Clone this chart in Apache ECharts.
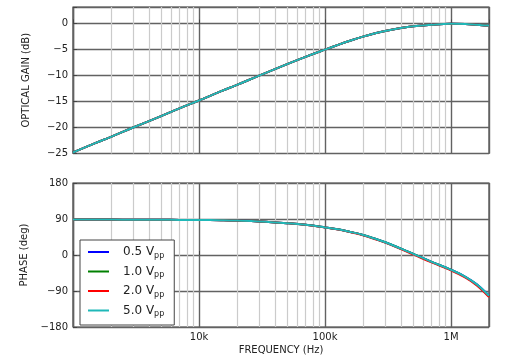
<!DOCTYPE html>
<html>
<head>
<meta charset="utf-8">
<script src="https://cdn.jsdelivr.net/npm/echarts@6/dist/echarts.min.js"></script>
<style>html,body{margin:0;padding:0;background:#fff}#c{width:507px;height:356px}</style>
</head>
<body>
<div id="c"></div>
<script>
// ---- data ----
var freqs = [1000, 1500, 2000, 3000, 5000, 7000, 10000, 15000, 20000, 30000, 50000, 70000, 100000, 130000, 160000, 200000, 250000, 300000, 400000, 500000, 700000, 1000000, 1300000, 1600000, 2000000];
var seriesNames = ['0.5 V', '1.0 V', '2.0 V', '5.0 V'];
var gain05 = [-24.8, -23.0, -21.8, -20.0, -17.8, -16.3, -14.8, -13.0, -11.8, -10.0, -7.8, -6.4, -5.0, -4.0, -3.25, -2.5, -1.85, -1.4, -0.85, -0.52, -0.2, -0.02, -0.05, -0.2, -0.42];
var gain10 = [-24.8, -23.0, -21.8, -20.0, -17.8, -16.3, -14.8, -13.0, -11.8, -10.0, -7.8, -6.4, -5.0, -4.0, -3.25, -2.5, -1.85, -1.4, -0.85, -0.52, -0.2, -0.02, -0.05, -0.2, -0.42];
var gain20 = [-24.8, -23.0, -21.8, -20.0, -17.8, -16.3, -14.8, -13.0, -11.8, -10.0, -7.8, -6.4, -5.0, -4.0, -3.25, -2.5, -1.85, -1.4, -0.85, -0.52, -0.2, -0.03, -0.07, -0.23, -0.47];
var gain50 = [-24.8, -23.0, -21.8, -20.0, -17.8, -16.3, -14.8, -13.0, -11.8, -10.0, -7.8, -6.4, -5.0, -4.0, -3.25, -2.5, -1.85, -1.4, -0.85, -0.52, -0.2, -0.02, -0.05, -0.2, -0.42];
var phase05 = [88.5, 88.5, 88.5, 88.3, 88.0, 87.8, 87.5, 86.8, 86.0, 84.0, 79.5, 75.5, 69.0, 63.5, 57.5, 50.0, 40.5, 32.0, 16.0, 3.0, -17.0, -37.0, -54.5, -73.5, -102.0];
var phase10 = [88.5, 88.5, 88.5, 88.3, 88.0, 87.8, 87.5, 86.8, 86.0, 84.0, 79.5, 75.5, 69.0, 63.5, 57.5, 50.0, 40.5, 32.0, 16.0, 3.0, -17.0, -37.3, -55.0, -74.2, -103.0];
var phase20 = [88.5, 88.5, 88.5, 88.3, 88.0, 87.8, 87.5, 86.8, 86.0, 84.0, 79.5, 75.5, 69.0, 63.3, 57.0, 49.3, 39.5, 30.8, 14.6, 1.5, -18.6, -38.6, -56.5, -76.0, -105.0];
var phase50 = [88.5, 88.5, 88.5, 88.3, 88.0, 87.8, 87.5, 86.8, 86.0, 84.0, 79.5, 75.5, 69.0, 63.5, 57.5, 50.0, 40.5, 32.0, 16.0, 3.0, -17.0, -37.0, -54.5, -73.5, -102.0];
var colors = ['#0000ff', '#008000', '#ff0000', '#1fb8b8'];
var minorGrid = [2000, 3000, 4000, 5000, 6000, 7000, 8000, 9000, 20000, 30000, 40000, 50000, 60000, 70000, 80000, 90000, 200000, 300000, 400000, 500000, 600000, 700000, 800000, 900000];
var xTickLabels = {10000: '10k', 100000: '100k', 1000000: '1M'};
var gainTicks = [-25, -20, -15, -10, -5, 0];
var phaseTicks = [-180, -90, 0, 90, 180];

function pairs(ys) { return freqs.map(function (f, i) { return [f, ys[i]]; }); }
function minus(v) { return String(v).replace('-', '\u2212'); }

var FONT = 'DejaVu Sans';
var gainData = [gain05, gain10, gain20, gain50];
var phaseData = [phase05, phase10, phase20, phase50];
var series = [];
var minorLines = minorGrid.map(function (v) { return {xAxis: v}; });
for (var k = 0; k < 4; k++) {
  series.push({
    name: seriesNames[k], type: 'line', xAxisIndex: 0, yAxisIndex: 0,
    data: pairs(gainData[k]), showSymbol: false, smooth: 0.4,
    lineStyle: {color: colors[k], width: 2}, itemStyle: {color: colors[k]},
    z: 5 + k,
    markLine: k === 0 ? {silent: true, symbol: 'none', label: {show: false}, z: 1,
      lineStyle: {color: '#cbcbcb', width: 1.2, type: 'solid'}, data: minorLines, animation: false} : undefined
  });
  series.push({
    name: seriesNames[k], type: 'line', xAxisIndex: 1, yAxisIndex: 1,
    data: pairs(phaseData[k]), showSymbol: false, smooth: 0.4,
    lineStyle: {color: colors[k], width: 2}, itemStyle: {color: colors[k]},
    z: 5 + k,
    markLine: k === 0 ? {silent: true, symbol: 'none', label: {show: false}, z: 1,
      lineStyle: {color: '#cbcbcb', width: 1.2, type: 'solid'}, data: minorLines, animation: false} : undefined
  });
}

function xAxis(gi, showLabels) {
  return {
    type: 'log', gridIndex: gi, min: 1000, max: 2000000, logBase: 10,
    axisLine: {show: false},
    axisTick: {show: true, inside: true, length: 4, lineStyle: {color: '#444'}},
    axisLabel: {show: showLabels, color: '#222', fontFamily: FONT, fontSize: 10, margin: 5,
      showMinLabel: false, showMaxLabel: false,
      formatter: function (v) { return xTickLabels[Math.round(v)] || ''; }},
    splitLine: {show: true, lineStyle: {color: '#626262', width: 1.4}},
    name: showLabels ? 'FREQUENCY (Hz)' : '', nameLocation: 'middle', nameGap: 18,
    nameTextStyle: {color: '#222', fontFamily: FONT, fontSize: 10}
  };
}
function yAxis(gi, min, max, interval, ticks, name) {
  return {
    type: 'value', gridIndex: gi, min: min, max: max, interval: interval,
    axisLine: {show: false},
    axisTick: {show: true, inside: true, length: 4, lineStyle: {color: '#444'}},
    axisLabel: {color: '#222', fontFamily: FONT, fontSize: 10, margin: 5,
      formatter: function (v) { return ticks.indexOf(v) >= 0 ? minus(v) : ''; }},
    splitLine: {show: true, lineStyle: {color: '#626262', width: 1.4}},
    name: name, nameLocation: 'middle', nameGap: 42, nameRotate: 90,
    nameTextStyle: {color: '#222', fontFamily: FONT, fontSize: 10}
  };
}

var chart = echarts.init(document.getElementById('c'), null, {renderer: 'canvas'});
chart.setOption({
  animation: false,
  backgroundColor: '#fff',
  textStyle: {fontFamily: FONT},
  grid: [
    {left: 73, right: 18, top: 7, height: 146.5, show: true, borderColor: '#444', borderWidth: 1.2, backgroundColor: 'transparent'},
    {left: 73, right: 18, top: 183, height: 145, show: true, borderColor: '#444', borderWidth: 1.2, backgroundColor: 'transparent'}
  ],
  xAxis: [xAxis(0, false), xAxis(1, true)],
  yAxis: [
    yAxis(0, -25, 3.2, 5, gainTicks, 'OPTICAL GAIN (dB)'),
    yAxis(1, -180, 180, 90, phaseTicks, 'PHASE (deg)')
  ],
  legend: {
    data: seriesNames, orient: 'vertical', left: 80, top: 240,
    backgroundColor: '#fff', borderColor: '#444', borderWidth: 1,
    padding: [6, 10, 7, 8], itemGap: 6, itemWidth: 21, itemHeight: 2, icon: 'rect',
    formatter: function (n) { return '{a|' + n + '}{b|pp}'; },
    textStyle: {
      color: '#222', fontFamily: FONT, fontSize: 12,
      rich: {
        a: {fontSize: 12, fontFamily: FONT, color: '#222', padding: [0, 0, 0, 9]},
        b: {fontSize: 8, fontFamily: FONT, color: '#222', padding: [7, 0, 0, 0]}
      }
    }
  },
  series: series
});
</script>
</body>
</html>
